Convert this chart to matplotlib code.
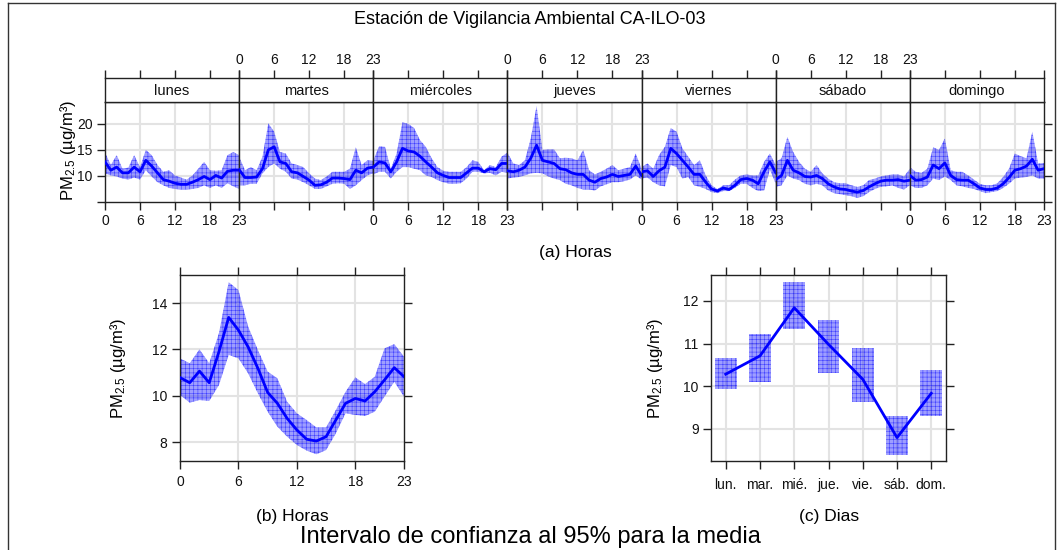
import numpy as np
import matplotlib
matplotlib.use("Agg")
import matplotlib.pyplot as plt
from matplotlib.lines import Line2D

plt.rcParams['font.family'] = ['Liberation Sans', 'DejaVu Sans']
plt.rcParams['mathtext.fontset'] = 'custom'
plt.rcParams['mathtext.rm'] = 'Liberation Sans'
plt.rcParams['mathtext.default'] = 'regular'
plt.rcParams['hatch.linewidth'] = 0.4

# ---- data: hour of week (mean and 95% CI) ----
dias = ['lunes', 'martes', 'miércoles', 'jueves', 'viernes', 'sábado', 'domingo']

lun_mean = [12.7, 11.1, 11.7, 10.6, 10.6, 11.7, 10.8, 13.0, 11.9, 10.6, 9.3, 9.0,
            8.6, 8.4, 8.4, 8.8, 9.3, 9.9, 9.3, 10.1, 9.6, 10.9, 11.1, 11.1]
lun_hi = [14.5, 12.1, 14.0, 11.4, 11.6, 14.0, 11.7, 15.0, 14.0, 12.1, 10.8, 11.1,
          10.1, 9.7, 9.3, 10.1, 11.4, 12.7, 11.1, 11.0, 11.1, 14.0, 14.6, 14.0]
lun_lo = [10.5, 10.1, 9.9, 9.5, 9.3, 9.7, 9.3, 11.1, 9.9, 8.8, 8.2, 7.7,
          7.5, 7.4, 7.4, 7.5, 7.7, 8.2, 7.7, 8.2, 7.7, 8.6, 8.0, 7.5]

mar_mean = [11.2, 9.7, 9.7, 9.8, 11.4, 15.0, 15.6, 12.7, 12.4, 10.8, 10.6, 9.9,
            9.2, 8.2, 8.3, 8.8, 9.6, 9.6, 9.5, 9.3, 11.1, 10.6, 11.5, 11.7]
mar_hi = [13.7, 11.1, 11.7, 11.1, 13.7, 20.1, 18.5, 14.6, 14.3, 12.4, 12.1, 11.7,
          10.5, 9.5, 9.2, 9.9, 10.8, 10.8, 10.8, 11.4, 15.5, 12.1, 13.0, 12.9]
mar_lo = [8.2, 8.2, 8.5, 8.5, 10.5, 11.7, 12.4, 11.4, 10.8, 9.5, 9.3, 8.8,
          8.2, 7.5, 7.5, 8.0, 8.5, 8.6, 8.5, 7.5, 8.2, 9.2, 10.1, 10.5]

mie_mean = [11.7, 12.7, 12.5, 10.8, 12.7, 15.3, 14.8, 14.6, 13.8, 12.7, 11.7, 10.6,
            10.1, 9.7, 9.7, 9.7, 10.6, 11.5, 11.5, 10.8, 11.4, 11.2, 12.4, 12.4]
mie_hi = [13.0, 15.7, 15.6, 11.4, 14.3, 20.3, 20.0, 19.2, 16.9, 15.6, 13.4, 11.7,
          11.0, 10.8, 10.8, 10.8, 11.7, 13.0, 12.7, 11.1, 12.1, 11.7, 13.7, 14.5]
mie_lo = [10.3, 10.8, 10.8, 9.5, 10.8, 11.7, 11.7, 11.4, 11.1, 10.1, 9.8, 9.2,
          8.8, 8.5, 8.5, 8.6, 9.5, 10.8, 10.8, 10.5, 10.6, 10.1, 10.8, 10.6]

jue_mean = [11.0, 10.8, 11.1, 11.7, 13.4, 15.9, 13.0, 12.7, 12.4, 11.4, 11.2, 10.6,
            10.3, 10.3, 9.2, 8.8, 9.5, 9.8, 10.3, 9.9, 10.1, 10.3, 11.9, 10.1]
jue_hi = [14.5, 12.4, 12.1, 13.0, 17.2, 23.4, 15.0, 15.1, 15.1, 13.4, 13.5, 13.4,
          13.0, 15.0, 11.1, 10.3, 10.8, 11.4, 12.1, 11.1, 11.4, 11.7, 14.3, 11.4]
jue_lo = [9.5, 9.7, 9.8, 10.1, 10.5, 10.6, 10.5, 9.9, 9.5, 9.2, 8.5, 8.2,
          7.7, 7.4, 7.4, 7.2, 8.0, 8.4, 8.8, 8.8, 9.0, 9.3, 10.1, 9.3]

vie_mean = [10.8, 11.0, 9.9, 11.0, 11.7, 15.3, 14.3, 13.0, 11.7, 10.3, 10.3, 8.8,
            7.5, 7.1, 7.7, 7.4, 8.2, 9.3, 9.5, 9.2, 8.5, 10.8, 12.7, 10.6]
vie_hi = [11.7, 12.4, 11.4, 14.0, 15.6, 19.2, 18.5, 15.3, 13.7, 12.1, 13.0, 10.1,
          8.2, 7.5, 8.2, 8.2, 9.3, 10.1, 10.3, 10.1, 10.1, 12.7, 14.3, 12.1]
vie_lo = [9.5, 9.7, 8.8, 8.2, 8.0, 12.1, 11.7, 9.5, 9.8, 8.2, 7.9, 7.5,
          6.9, 6.7, 7.1, 7.1, 7.7, 8.5, 8.5, 7.7, 7.1, 7.2, 11.2, 8.5]

sab_mean = [9.3, 10.1, 13.0, 11.1, 10.6, 9.9, 9.8, 10.1, 9.5, 8.5, 7.9, 7.5,
            7.4, 7.1, 6.9, 7.2, 7.9, 8.5, 9.0, 9.2, 9.2, 9.3, 9.0, 9.2]
sab_hi = [12.7, 13.4, 17.5, 14.6, 12.7, 11.4, 10.8, 12.1, 10.5, 9.5, 8.8, 8.6,
          8.6, 8.2, 7.9, 8.2, 9.2, 9.5, 9.9, 10.1, 10.3, 10.3, 9.9, 11.4]
sab_lo = [7.9, 8.2, 10.1, 9.5, 9.2, 8.5, 8.2, 8.5, 8.2, 7.2, 6.7, 6.5,
          6.3, 6.1, 5.8, 6.1, 6.9, 7.5, 7.9, 8.0, 8.2, 7.7, 7.4, 8.2]

dom_mean = [10.1, 9.2, 9.3, 9.8, 12.1, 11.4, 12.5, 10.1, 9.3, 9.2, 9.2, 8.5,
            7.7, 7.4, 7.4, 7.7, 8.5, 9.7, 11.1, 11.4, 11.9, 13.2, 11.1, 11.4]
dom_hi = [11.7, 10.8, 10.6, 11.4, 15.5, 15.0, 17.2, 11.1, 10.8, 10.8, 10.1, 9.3,
          8.5, 8.2, 8.2, 8.6, 9.8, 11.4, 14.3, 13.8, 13.4, 18.5, 12.4, 12.5]
dom_lo = [8.2, 7.7, 7.7, 8.2, 9.5, 9.2, 9.9, 9.2, 8.2, 8.0, 7.7, 7.5,
          7.1, 6.7, 6.9, 7.1, 7.7, 8.5, 9.5, 9.7, 9.8, 10.1, 9.5, 9.5]

# ---- data: hour of day ----
hora_mean = [10.78, 10.56, 11.06, 10.56, 11.9, 13.38, 12.83, 12.1, 11.18, 10.14, 9.67, 9.02,
             8.52, 8.12, 8.04, 8.23, 8.95, 9.67, 9.88, 9.77, 10.17, 10.68, 11.21, 10.82]
hora_hi = [11.61, 11.4, 12.0, 11.4, 12.7, 14.9, 14.56, 12.98, 11.97, 11.04, 10.75, 9.74,
           9.24, 8.95, 8.63, 8.63, 9.38, 10.17, 10.79, 10.5, 10.82, 12.04, 12.23, 11.68]
hora_lo = [10.03, 9.7, 9.81, 9.77, 10.46, 11.76, 11.61, 10.96, 10.1, 9.31, 8.66, 8.23,
           7.87, 7.63, 7.47, 7.65, 8.37, 9.24, 9.17, 9.12, 9.31, 9.96, 10.6, 9.96]

# ---- data: day of week ----
dia_labels = ['lun.', 'mar.', 'mié.', 'jue.', 'vie.', 'sáb.', 'dom.']
dia_mean = [10.28, 10.71, 11.84, 10.98, 10.16, 8.79, 9.83]
dia_hi = [10.66, 11.22, 12.45, 11.55, 10.89, 9.29, 10.38]
dia_lo = [9.93, 10.10, 11.33, 10.31, 9.63, 8.38, 9.30]

semana = [(lun_mean, lun_lo, lun_hi), (mar_mean, mar_lo, mar_hi), (mie_mean, mie_lo, mie_hi),
          (jue_mean, jue_lo, jue_hi), (vie_mean, vie_lo, vie_hi), (sab_mean, sab_lo, sab_hi),
          (dom_mean, dom_lo, dom_hi)]

W, H = 1063, 550
LINE = '#0000ff'
FILL = (0.0, 0.0, 1.0, 0.38)
HATCH_EC = (0.0, 0.0, 1.0, 0.6)
GRID = '#e3e3e3'
FRAME = '#222222'

fig = plt.figure(figsize=(W / 100, H / 100), dpi=100)


def ax_at(l, t, r, b):
    return fig.add_axes([l / W, 1 - b / H, (r - l) / W, (b - t) / H])


def style(ax):
    for s in ax.spines.values():
        s.set_color(FRAME)
        s.set_linewidth(1.0)
    ax.tick_params(direction='out', length=6, width=1, color=FRAME,
                   labelsize=10, pad=3, labelcolor='#111111')
    ax.set_axisbelow(True)


def band(ax, x, lo, hi, mean):
    ax.fill_between(x, lo, hi, facecolor=FILL, edgecolor=HATCH_EC,
                    linewidth=0, hatch='++++', zorder=2)
    ax.plot(x, mean, color=LINE, lw=2.0, zorder=3)


horas = np.arange(24)
hticks = [0, 6, 12, 18, 23]
pw = (1044 - 105) / 7

# ---- (a) hour of week panels ----
for i, (dia, (m, lo, hi)) in enumerate(zip(dias, semana)):
    l = 105 + i * pw
    ax = ax_at(l, 102, l + pw, 202)
    style(ax)
    for y in [10, 15, 20]:
        ax.axhline(y, color=GRID, lw=1.5, zorder=0)
    for x in [6, 12, 18]:
        ax.axvline(x, color=GRID, lw=1.5, zorder=0)
    band(ax, horas, lo, hi, m)
    ax.set_xlim(0, 23)
    ax.set_ylim(5, 24.2)
    ax.set_xticks(hticks)
    ax.set_yticks([5, 10, 15, 20])
    ax.tick_params(axis='x', bottom=True, labelbottom=(i % 2 == 0), top=False)
    ax.tick_params(axis='y', left=(i == 0), labelleft=(i == 0),
                   right=(i == 6), labelright=False)
    if i == 0:
        ax.set_yticklabels(['', '10', '15', '20'])

    st = ax_at(l, 78, l + pw, 102)
    style(st)
    st.set_xlim(0, 23)
    st.set_ylim(0, 1)
    st.set_xticks(hticks)
    st.set_yticks([])
    st.tick_params(axis='x', bottom=False, labelbottom=False, top=True,
                   labeltop=(i % 2 == 1), pad=2)
    st.text(11.5, 0.45, dia, ha='center', va='center', fontsize=10.5, color='#111111')

# ---- (b) hour of day ----
axb = ax_at(180, 275, 404, 461)
style(axb)
for y in [8, 10, 12, 14]:
    axb.axhline(y, color=GRID, lw=1.5, zorder=0)
for x in [6, 12, 18]:
    axb.axvline(x, color=GRID, lw=1.5, zorder=0)
band(axb, horas, hora_lo, hora_hi, hora_mean)
axb.set_xlim(0, 23)
axb.set_ylim(7.18, 15.21)
axb.set_xticks(hticks)
axb.set_yticks([8, 10, 12, 14])
axb.tick_params(axis='x', top=True, labeltop=False, pad=4)
axb.tick_params(axis='y', right=True, labelright=False)

# ---- (c) day of week ----
axc = ax_at(711, 275, 946, 461)
style(axc)
pos = np.arange(1, 8)
for y in [9, 10, 11, 12]:
    axc.axhline(y, color=GRID, lw=1.5, zorder=0)
for x in pos:
    axc.axvline(x, color=GRID, lw=1.5, zorder=0)
axc.bar(pos, np.array(dia_hi) - np.array(dia_lo), bottom=dia_lo, width=0.63,
        facecolor=FILL, edgecolor=HATCH_EC, linewidth=0, hatch='++++', zorder=2)
axc.plot(pos, dia_mean, color=LINE, lw=2.0, zorder=3)
axc.set_xlim(0.57, 7.43)
axc.set_ylim(8.24, 12.61)
axc.set_xticks(pos)
axc.set_xticklabels(dia_labels)
axc.set_yticks([9, 10, 11, 12])
axc.tick_params(axis='x', top=True, labeltop=False, pad=6)
axc.tick_params(axis='y', right=True, labelright=False)

# ---- texts ----
ylab = 'PM$_{2.5}$ (µg/m³)'
fig.text(68 / W, 1 - 150 / H, ylab, rotation=90, ha='center', va='center', fontsize=12)
fig.text(118 / W, 1 - 368 / H, ylab, rotation=90, ha='center', va='center', fontsize=12)
fig.text(655 / W, 1 - 368 / H, ylab, rotation=90, ha='center', va='center', fontsize=12)

fig.text(530 / W, 1 - 20 / H, 'Estación de Vigilancia Ambiental CA-ILO-03',
         ha='center', va='center', fontsize=13)
fig.text(575 / W, 1 - 253 / H, '(a) Horas', ha='center', va='center', fontsize=12.5)
fig.text(292 / W, 1 - 516 / H, '(b) Horas', ha='center', va='center', fontsize=12.5)
fig.text(829 / W, 1 - 516 / H, '(c) Dias', ha='center', va='center', fontsize=12.5)
fig.text(530 / W, 1 - 537 / H, 'Intervalo de confianza al 95% para la media',
         ha='center', va='center', fontsize=17)

# outer frame
for xs, ys in [([8, 8], [3, 550]), ([1055, 1055], [3, 550]), ([8, 1055], [3, 3])]:
    fig.add_artist(Line2D([x / W for x in xs], [1 - y / H for y in ys],
                          color='#333333', lw=1))

fig.savefig('out.png', dpi=100)
